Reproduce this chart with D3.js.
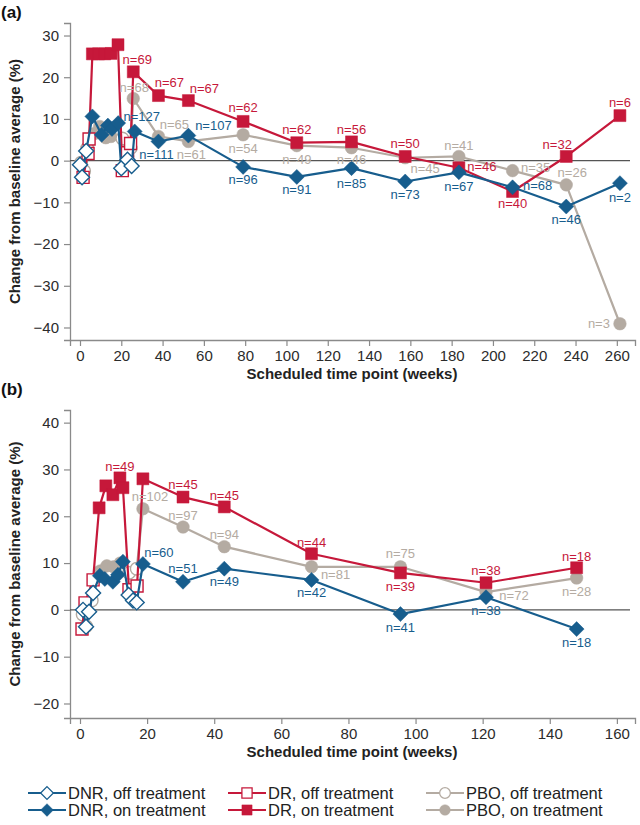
<!DOCTYPE html>
<html><head><meta charset="utf-8">
<script src="https://cdn.jsdelivr.net/npm/d3@7"></script>
<style>
body{margin:0;background:#fff}
svg{display:block}
text{font-family:"Liberation Sans",Arial,Helvetica,sans-serif}
</style>
</head><body>
<svg id="chart" width="640" height="825"></svg>
<script>
// ---------- Panel (a) data ----------
const aTicksX = [0,20,40,60,80,100,120,140,160,180,200,220,240,260];
const aTicksY = [-40,-30,-20,-10,0,10,20,30];

const aWeeksDNR = [0,1,3,6,10.5,13.5,15.5,18.5,20,23,25,26.5,38,52.5,79,105,131.5,157.5,183.5,209.5,235.5,261.5];
const aValsDNR  = [-1,-4,2.3,10.6,6.2,8.4,7.6,9.0,-1.8,0.2,-1.3,7.0,4.6,6.0,-1.5,-3.9,-1.8,-5.0,-2.8,-6.4,-11.0,-5.4];
const aOnDNR    = [0,0,0,1,1,1,1,1,0,0,0,1,1,1,1,1,1,1,1,1,1,1];
const aNDNR     = [null,null,null,null,null,null,null,null,null,null,null,127,111,107,96,91,85,73,67,68,46,2];

const aWeeksDR = [1.5,3.9,4.4,6,9,12,15,18.4,20.5,23,24.5,25.8,38,52.5,79,105,131.5,157.5,183.5,209.5,235.5,261.5];
const aValsDR  = [-4,1.7,5.2,25.6,25.6,25.6,25.7,27.8,-2.4,1.9,4.1,21.3,15.6,14.4,9.4,4.3,4.5,1.0,-1.7,-7.4,1.0,10.8];
const aOnDR    = [0,0,0,1,1,1,1,1,0,0,0,1,1,1,1,1,1,1,1,1,1,1];
const aNDR     = [null,null,null,null,null,null,null,null,null,null,null,69,67,67,62,62,56,50,46,40,32,6];

const aWeeksPBO = [0.5,2,3.5,7,9.5,12.5,15,20.5,23,24.5,25.8,38,52.5,79,105,131.5,157.5,183.5,209.5,235.5,261.5];
const aValsPBO  = [-0.5,-2.5,3,6.5,8.2,5.5,5.8,5.3,1,3,14.9,5.8,4.6,6.2,3.6,3.1,0.7,1.0,-2.4,-5.8,-39.1];
const aOnPBO    = [0,0,0,1,1,1,1,0,0,0,1,1,1,1,1,1,1,1,1,1,1];
const aNPBO     = [null,null,null,null,null,null,null,null,null,null,68,65,61,54,49,46,45,41,35,26,3];

// ---------- Panel (b) data ----------
const bTicksX = [0,20,40,60,80,100,120,140,160];
const bTicksY = [-20,-10,0,10,20,30,40];

const bWeeksDNR = [0.9,1.8,2.7,3.9,5.9,7.4,9.8,11.3,12.8,14.5,15.8,16.9,18.75,30.7,43,69,95.5,121,148];
const bValsDNR  = [0,-3.6,-0.4,3.6,7.3,6.6,6.0,7.5,10.3,3.2,2.0,1.6,9.8,6.0,8.8,6.4,-0.9,2.7,-4.1];
const bOnDNR    = [0,0,0,0,1,1,1,1,1,0,0,0,1,1,1,1,1,1,1];
const bNDNR     = [null,null,null,null,null,null,null,null,null,null,null,null,60,51,49,42,41,38,18];

const bWeeksDR = [0.6,1.5,3.9,5.7,7.7,9.8,11.9,12.8,14.6,17,18.75,30.7,43,69,95.5,121,148];
const bValsDR  = [-4.1,1.5,6.4,21.8,26.5,24.6,28.2,26.1,4.3,5.1,28.0,24.1,22.0,12.0,7.9,5.8,9.0];
const bOnDR    = [0,0,0,1,1,1,1,1,0,0,1,1,1,1,1,1,1];
const bNDR     = [null,null,null,null,null,null,49,null,null,null,null,45,45,44,39,38,18];

const bWeeksPBO = [0.8,1.8,3.5,6,8,10,12,14.6,16.9,18.75,30.7,43,69,95.5,121,148];
const bValsPBO  = [-1,-3.5,2,8.3,9.4,9.2,10,7.9,8.8,21.6,17.7,13.5,9.2,9.2,3.8,6.8];
const bOnPBO    = [0,0,0,1,1,1,1,0,0,1,1,1,1,1,1,1];
const bNPBO     = [null,null,null,null,null,null,null,null,null,102,97,94,81,75,72,28];

const legendLabels = ["DNR, off treatment","DR, off treatment","PBO, off treatment",
                      "DNR, on treatment","DR, on treatment","PBO, on treatment"];

// ---------- layout / style (not data) ----------
const COLORS = {DNR:"#175d8d", DR:"#c6183a", PBO:"#b4aba2"};
const SHAPES = {DNR:"diamond", DR:"square", PBO:"circle"};
// pixel offsets of n labels, in order of the non-null labels of each series
const labelOffsets = {
  aDNR:[[7,-15],[-2,13],[25,-10],[0,13],[0,13],[0,15],[0,13],[0,14],[25,-2],[0,13],[0,14]],
  aDR:[[4,-12],[11,-13],[16,-12],[0,-14],[0,-13],[0,-12],[0,-13],[23,-1],[0,12],[-9,-12],[0,-13]],
  aPBO:[[1,-11],[16,-12],[3,13],[0,14],[0,14],[0,12],[20,11],[0,-11],[23,-3],[6,-12],[-21,0]],
  bDNR:[[16,-12],[0,-13],[0,13],[0,13],[0,13],[0,13],[0,13]],
  bDR:[[0,-11],[0,-13],[0,-11],[0,-11],[0,14],[0,-12],[0,-11]],
  bPBO:[[7,-12],[0,-12],[0,-12],[24,8],[0,-13],[28,3],[0,13]]
};

const svg = d3.select("#chart");

function markerPath(shape){
  if(shape==="diamond") return "M0,-7.5L7.5,0L0,7.5L-7.5,0Z";
  if(shape==="square") return "M-6,-6H6V6H-6Z";
  return d3.symbol(d3.symbolCircle, Math.PI*6.3*6.3)();
}

function drawPanel(cfg){
  const g = svg.append("g");
  const x = d3.scaleLinear().domain(cfg.xDomain).range([70,635]);
  const y = d3.scaleLinear().domain(cfg.yDomain).range([cfg.bottom, cfg.top]);

  const yAx = g.append("g").attr("transform","translate(70,0)")
    .call(d3.axisLeft(y).tickValues(cfg.ticksY).tickSizeOuter(0).tickSize(6).tickPadding(5));
  const xAx = g.append("g").attr("transform",`translate(0,${cfg.bottom})`)
    .call(d3.axisBottom(x).tickValues(cfg.ticksX).tickSizeOuter(0).tickSize(6).tickPadding(4));
  [yAx,xAx].forEach(a=>{
    a.select(".domain").attr("stroke","#8a8a8a").attr("stroke-width",1.3);
    a.selectAll(".tick line").attr("stroke","#8a8a8a").attr("stroke-width",1.2);
    a.selectAll(".tick text").attr("fill","#2b2b2b").style("font-size","15px")
      .style("font-family",'"Liberation Sans",Arial,sans-serif');
  });

  g.append("line").attr("x1",x(cfg.xDomain[0])).attr("x2",630)
    .attr("y1",y(0)).attr("y2",y(0)).attr("stroke","#555").attr("stroke-width",1.2);

  g.append("text").attr("x",352).attr("y",cfg.bottom+39).attr("text-anchor","middle")
    .style("font-size","15px").style("font-weight","bold").attr("fill","#222")
    .text("Scheduled time point (weeks)");
  g.append("text").attr("transform",`translate(20,${(cfg.top+cfg.bottom)/2}) rotate(-90)`)
    .attr("text-anchor","middle").style("font-size","15px").style("font-weight","bold").attr("fill","#222")
    .text("Change from baseline average (%)");
  g.append("text").attr("x",1).attr("y",cfg.tagY).style("font-size","17px").style("font-weight","bold")
    .attr("fill","#111").text(cfg.tag);

  const line = d3.line().x(d=>x(d.w)).y(d=>y(d.v));
  const seriesData = cfg.series.map(s=>({
    key:s.key, color:COLORS[s.key], shape:SHAPES[s.key], id:cfg.id+s.key,
    pts:s.weeks.map((w,i)=>({w, v:s.vals[i], on:s.on[i], n:s.n[i]}))
  }));

  seriesData.forEach(s=>{
    g.append("path").datum(s.pts).attr("d",line).attr("fill","none")
      .attr("stroke",s.color).attr("stroke-width",2.2).attr("stroke-linejoin","round");
    g.selectAll(null).data(s.pts).join("path")
      .attr("d",markerPath(s.shape))
      .attr("transform",d=>`translate(${x(d.w)},${y(d.v)})`)
      .attr("fill",d=>d.on? s.color : "#fff")
      .attr("stroke",s.color).attr("stroke-width",d=>d.on?0.5:1.4);
  });
  seriesData.forEach(s=>{
    const offs = labelOffsets[s.id];
    const labeled = s.pts.filter(d=>d.n!==null);
    g.selectAll(null).data(labeled).join("text")
      .attr("x",(d,i)=>x(d.w)+offs[i][0]).attr("y",(d,i)=>y(d.v)+offs[i][1])
      .attr("text-anchor","middle").attr("dominant-baseline","central")
      .style("font-size","13px").attr("fill",s.color)
      .text(d=>"n="+d.n);
  });
}

drawPanel({
  id:"a", tag:"(a)", tagY:18, top:23, bottom:340,
  xDomain:[-4.84,268.8], yDomain:[-43,33], ticksX:aTicksX, ticksY:aTicksY,
  series:[
    {key:"PBO", weeks:aWeeksPBO, vals:aValsPBO, on:aOnPBO, n:aNPBO},
    {key:"DR",  weeks:aWeeksDR,  vals:aValsDR,  on:aOnDR,  n:aNDR},
    {key:"DNR", weeks:aWeeksDNR, vals:aValsDNR, on:aOnDNR, n:aNDNR}
  ]
});
drawPanel({
  id:"b", tag:"(b)", tagY:395, top:410, bottom:718,
  xDomain:[-2.98,165.4], yDomain:[-23.1,42.7], ticksX:bTicksX, ticksY:bTicksY,
  series:[
    {key:"PBO", weeks:bWeeksPBO, vals:bValsPBO, on:bOnPBO, n:bNPBO},
    {key:"DR",  weeks:bWeeksDR,  vals:bValsDR,  on:bOnDR,  n:bNDR},
    {key:"DNR", weeks:bWeeksDNR, vals:bValsDNR, on:bOnDNR, n:bNDNR}
  ]
});

// legend
const legKeys = ["DNR","DR","PBO"];
const colX = [28,228,426];
const rowY = [793,810];
const lg = svg.append("g");
legendLabels.forEach((lab,i)=>{
  const col = i%3, row = Math.floor(i/3), key = legKeys[col], on = row===1;
  const x0 = colX[col], yy = rowY[row];
  lg.append("line").attr("x1",x0).attr("x2",x0+38).attr("y1",yy).attr("y2",yy)
    .attr("stroke",COLORS[key]).attr("stroke-width",2.2);
  lg.append("path").attr("d",markerPath(SHAPES[key]))
    .attr("transform",`translate(${x0+19},${yy}) scale(0.85)`)
    .attr("fill",on?COLORS[key]:"#fff").attr("stroke",COLORS[key]).attr("stroke-width",on?0.5:1.5);
  lg.append("text").attr("x",x0+40).attr("y",yy).attr("dominant-baseline","central")
    .style("font-size","16.5px").attr("fill","#222").text(lab);
});
</script>
</body></html>
